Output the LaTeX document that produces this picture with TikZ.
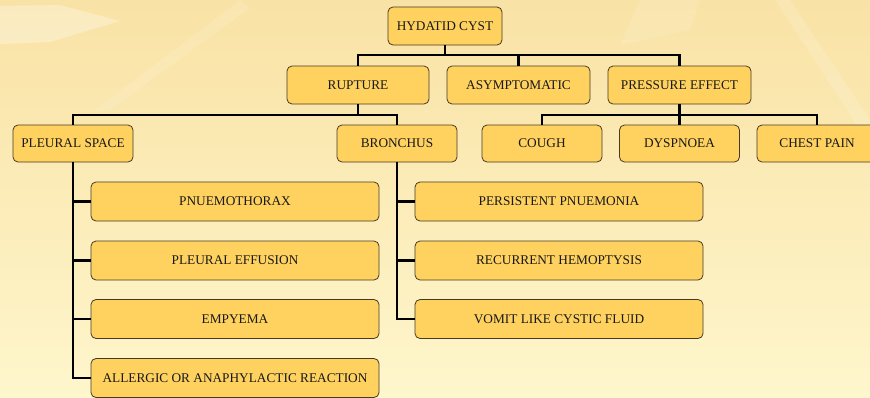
\documentclass[tikz,border=0pt]{standalone}
\usepackage{fontspec}
\setmainfont{Liberation Serif}
\definecolor{bgtop}{RGB}{249,226,165}
\definecolor{bgbot}{RGB}{254,246,204}
\definecolor{boxfill}{RGB}{255,210,96}
\definecolor{boxline}{RGB}{70,58,35}
\begin{document}
\begin{tikzpicture}[x=1pt,y=-1pt,
    box/.style={draw=boxline,line width=0.8pt,fill=boxfill,rounded corners=5pt,
      inner sep=0pt,minimum height=38pt,font=\fontsize{13.3}{15}\selectfont,text=black!90},
    small/.style={box,minimum width=120pt},
    wide/.style={box,minimum width=288pt,minimum height=39pt},
    link/.style={line width=2.8pt,black}]
    \useasboundingbox (0,0) rectangle (870,397);
    \clip (0,0) rectangle (870,397);
    \shade[top color=bgtop,bottom color=bgbot] (0,0) rectangle (870,397);
    % faint background streaks
    \fill[white,opacity=0.3] (0,6)--(60,5)--(120,21)--(50,42)--(0,44)--cycle;
    \fill[white,opacity=0.15] (775,0)--(790,0)--(870,120)--(870,145)--cycle;
    \fill[white,opacity=0.12] (240,0)--(250,8)--(110,110)--(95,110)--cycle;
    \fill[white,opacity=0.12] (640,0)--(700,0)--(690,30)--(620,45)--cycle;

    % top levels
    \node[box,minimum width=114pt] (cyst) at (445,26) {HYDATID CYST};
    \node[box,minimum width=142pt] (rupture) at (358,85) {RUPTURE};
    \node[box,minimum width=143pt] (asym) at (518.5,85) {ASYMPTOMATIC};
    \node[box,minimum width=143pt] (press) at (679.5,85) {PRESSURE EFFECT};
    \node[small,minimum height=37pt] (pleural) at (73,143.5) {PLEURAL SPACE};
    \node[small,minimum height=37pt] (bronchus) at (397,143.5) {BRONCHUS};
    \node[small,minimum height=37pt] (cough) at (542,143.5) {COUGH};
    \node[small,minimum height=37pt] (dysp) at (679.5,143.5) {DYSPNOEA};
    \node[small,minimum height=37pt] (chest) at (817,143.5) {CHEST PAIN};

    % pleural column
    \node[wide] (pneumo) at (235,201.5) {PNUEMOTHORAX};
    \node[wide] (effusion) at (235,260.5) {PLEURAL EFFUSION};
    \node[wide] (empyema) at (235,319) {EMPYEMA};
    \node[wide] (allergic) at (235,378) {ALLERGIC OR ANAPHYLACTIC REACTION};

    % bronchus column
    \node[wide] (pneumonia) at (559,201.5) {PERSISTENT PNUEMONIA};
    \node[wide] (hemo) at (559,260.5) {RECURRENT HEMOPTYSIS};
    \node[wide] (vomit) at (559,319) {VOMIT LIKE CYSTIC FLUID};

    \coordinate (bar1) at (445,55);
    \coordinate (bar2) at (358,115);
    \coordinate (bar3) at (679.5,115);

    \draw[link] (cyst.south) -- (bar1);
    \draw[link] (rupture.north) |- (bar1) -| (press.north);
    \draw[link] (asym.north) -- (asym.north |- bar1);
    \draw[link] (rupture.south) -- (bar2);
    \draw[link] (pleural.north) |- (bar2) -| (bronchus.north);
    \draw[link] (press.south) -- (dysp.north);
    \draw[link] (cough.north) |- (bar3) -| (chest.north);

    \draw[link] (pleural.south) |- (allergic.west);
    \foreach \n in {pneumo,effusion,empyema}
      \draw[link] (pleural.south |- \n.west) -- (\n.west);
    \draw[link] (bronchus.south) |- (vomit.west);
    \foreach \n in {pneumonia,hemo}
      \draw[link] (bronchus.south |- \n.west) -- (\n.west);
  \end{tikzpicture}
\end{document}
